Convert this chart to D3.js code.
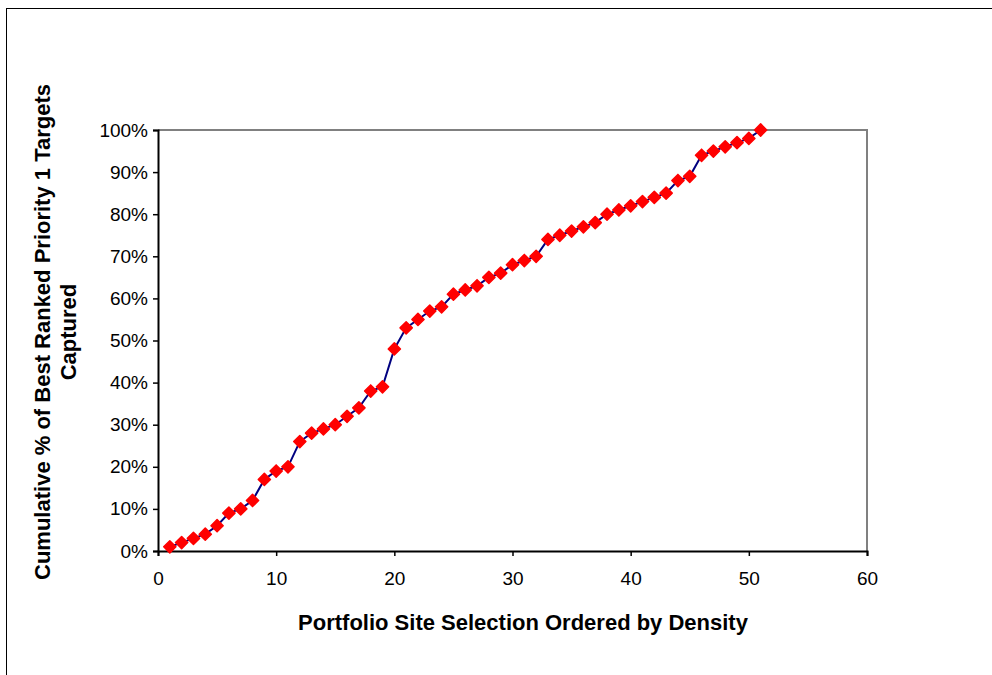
<!DOCTYPE html>
<html>
<head>
<meta charset="utf-8">
<script src="https://cdn.jsdelivr.net/npm/d3@7"></script>
<style>
  body { margin: 0; background: #fff; }
  text { font-family: "Liberation Sans", Arial, sans-serif; }
</style>
</head>
<body>
<svg id="chart" width="992" height="675"></svg>
<script>
// site rank (ordered by density)
const sites = d3.range(1, 52);
// cumulative % of best ranked priority 1 targets captured
const captured = [1, 2, 3, 4, 6, 9, 10, 12, 17, 19,
  20, 26, 28, 29, 30, 32, 34, 38, 39, 48,
  53, 55, 57, 58, 61, 62, 63, 65, 66, 68,
  69, 70, 74, 75, 76, 77, 78, 80, 81, 82,
  83, 84, 85, 88, 89, 94, 95, 96, 97, 98, 100];
const xTicks = [0, 10, 20, 30, 40, 50, 60];
const yTicks = [0, 10, 20, 30, 40, 50, 60, 70, 80, 90, 100];

const svg = d3.select("#chart");
const margin = {left: 158, top: 130, right: 867, bottom: 551};

// outer frame
svg.append("rect")
  .attr("x", 6.5).attr("y", 8.5)
  .attr("width", 1000).attr("height", 700)
  .attr("fill", "none").attr("stroke", "#000").attr("stroke-width", 1);

const x = d3.scaleLinear().domain([0, 60]).range([margin.left, margin.right]);
const y = d3.scaleLinear().domain([0, 100]).range([margin.bottom, margin.top]);

// plot area border (top / right in gray)
svg.append("path")
  .attr("d", `M${margin.left},${margin.top}H${margin.right}V${margin.bottom}`)
  .attr("fill", "none").attr("stroke", "#808080").attr("stroke-width", 2);

const xAxis = svg.append("g")
  .attr("transform", `translate(0,${margin.bottom})`)
  .call(d3.axisBottom(x).tickValues(xTicks).tickSize(5).tickPadding(16));
const yAxis = svg.append("g")
  .attr("transform", `translate(${margin.left},0)`)
  .call(d3.axisLeft(y).tickValues(yTicks).tickSize(5).tickPadding(5)
    .tickFormat(d => d + "%"));

[xAxis, yAxis].forEach(a => {
  a.select(".domain").attr("stroke", "#000").attr("stroke-width", 2);
  a.selectAll(".tick line").attr("stroke", "#000").attr("stroke-width", 1.5);
  a.selectAll(".tick text")
    .attr("fill", "#000")
    .style("font-size", "19px")
    .style("font-family", "'Liberation Sans', Arial, sans-serif");
});

// line
const line = d3.line()
  .x((d, i) => x(sites[i]))
  .y(d => y(d));
svg.append("path")
  .datum(captured)
  .attr("d", line)
  .attr("fill", "none")
  .attr("stroke", "#000080")
  .attr("stroke-width", 2);

// diamond markers
const diamond = d3.symbol().type(d3.symbolDiamond2).size(95);
svg.selectAll(".pt")
  .data(captured)
  .enter()
  .append("path")
    .attr("class", "pt")
    .attr("transform", (d, i) => "translate(" + x(sites[i]) + "," + y(d) + ")")
    .attr("d", diamond)
    .attr("fill", "#ff0000")
    .attr("stroke", "#ff0000")
    .attr("stroke-width", 1.5)
    .attr("stroke-linejoin", "round");

// axis titles
svg.append("text")
  .attr("x", 523).attr("y", 630)
  .attr("text-anchor", "middle")
  .style("font-size", "22px").style("font-weight", "bold")
  .text("Portfolio Site Selection Ordered by Density");

const yt = svg.append("text")
  .attr("transform", "translate(50,332) rotate(-90)")
  .attr("text-anchor", "middle")
  .style("font-size", "22px").style("font-weight", "bold");
yt.append("tspan").attr("x", 0).attr("dy", 0)
  .text("Cumulative % of Best Ranked Priority 1 Targets");
yt.append("tspan").attr("x", 0).attr("dy", "1.2em").text("Captured");
</script>
</body>
</html>
